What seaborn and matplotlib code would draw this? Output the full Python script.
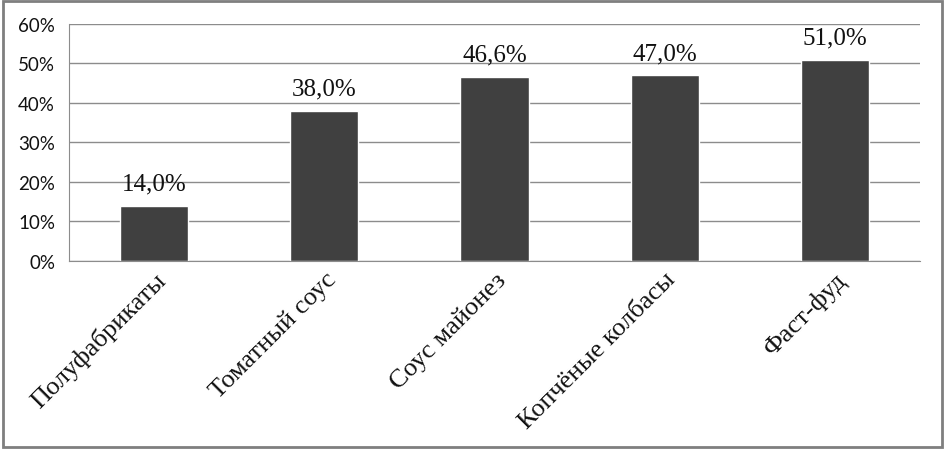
import matplotlib
matplotlib.use("Agg")
import matplotlib.pyplot as plt
import seaborn as sns
import pandas as pd
from matplotlib.patches import Rectangle
from matplotlib.ticker import FixedLocator

categories = ["Полуфабрикаты", "Томатный соус", "Соус майонез", "Копчёные колбасы", "Фаст-фуд"]
values = [14.0, 38.0, 46.6, 47.0, 51.0]
yticks = [0, 10, 20, 30, 40, 50, 60]
ytick_labels = ["0%", "10%", "20%", "30%", "40%", "50%", "60%"]

df = pd.DataFrame({"cat": categories, "val": values})

sns.set_style("white")
fig = plt.figure(figsize=(9.45, 4.52), dpi=100)
ax = fig.add_axes([0.073, 0.4204, 0.9005, 0.5243])

sns.barplot(data=df, x="cat", y="val", color="#404040", width=0.4, saturation=1, ax=ax)

ax.set_ylim(0, 60)
ax.set_xlim(-0.5, len(categories) - 0.5)
ax.set_yticks(yticks)
ax.set_yticklabels(ytick_labels, family=["Lato", "DejaVu Sans"], fontsize=13.5, color="#111111")
ax.yaxis.grid(True, color="#8c8c8c", linewidth=1)
ax.set_axisbelow(True)
ax.set_xlabel("")
ax.set_ylabel("")

for s in ["top", "right"]:
    ax.spines[s].set_visible(False)
ax.spines["left"].set_color("#8c8c8c")
ax.spines["bottom"].set_color("#8c8c8c")

ax.tick_params(axis="y", which="major", length=6, color="#8c8c8c", direction="out", pad=4)
ax.tick_params(axis="x", which="major", length=0, pad=5)
ax.xaxis.set_minor_locator(FixedLocator([i - 0.5 for i in range(len(categories) + 1)]))
ax.tick_params(axis="x", which="minor", length=6, color="#8c8c8c", direction="out")

ax.set_xticks(range(len(categories)))
ax.set_xticklabels(categories, rotation=45, ha="right", rotation_mode="anchor",
                   family=["Liberation Serif", "DejaVu Serif"], fontsize=19, color="#111111")

labels = [f"{v:.1f}%".replace(".", ",") for v in values]
ax.bar_label(ax.containers[0], labels=labels, padding=8,
             family=["Liberation Serif", "DejaVu Serif"], fontsize=18, color="#111111")

fig.patches.append(Rectangle((0.003, 0.008), 0.994, 0.988, transform=fig.transFigure,
                             fill=False, edgecolor="#7f7f7f", linewidth=2))

fig.savefig("out.png", dpi=100)
